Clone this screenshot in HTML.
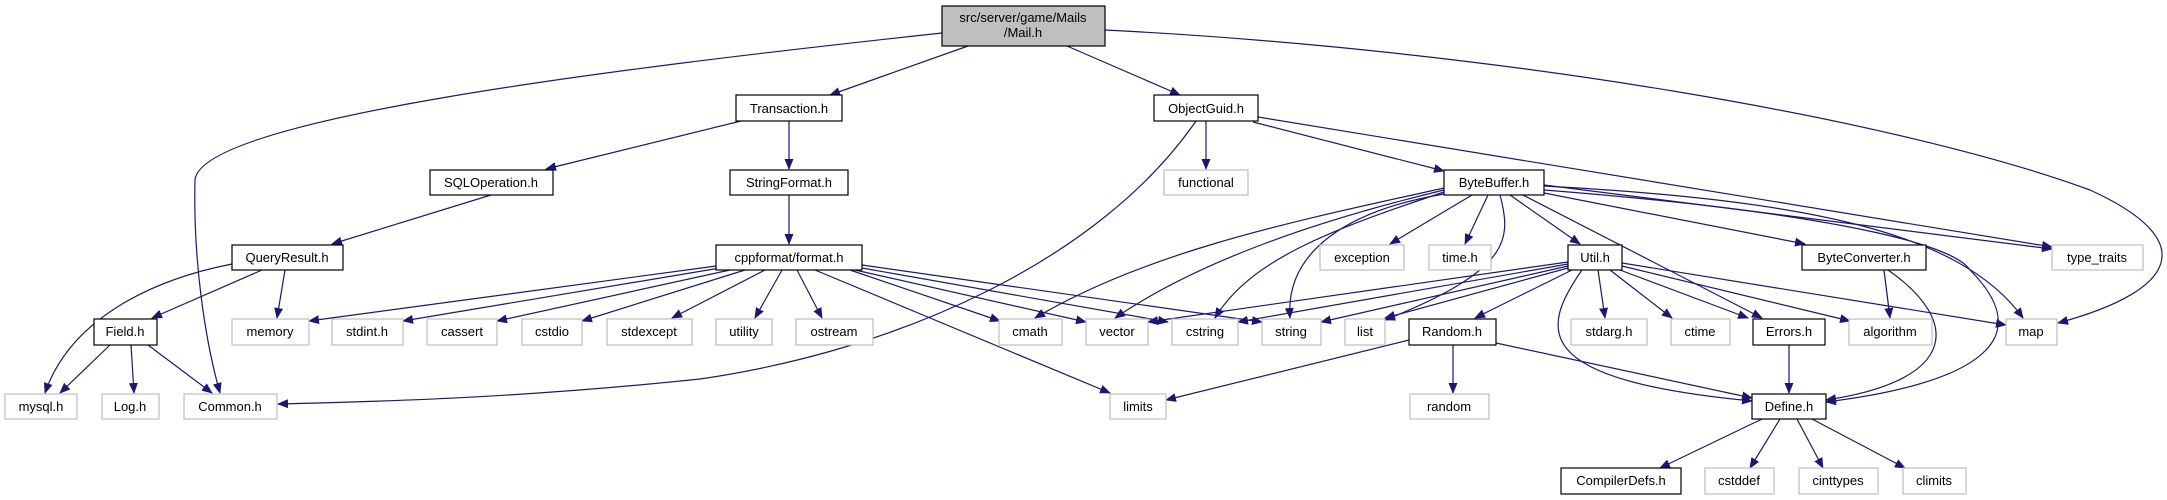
<!DOCTYPE html>
<html><head><meta charset="utf-8"><style>
html,body{margin:0;padding:0;background:#fff;}
svg{display:block;}
text{font-family:"Liberation Sans",sans-serif;font-size:13px;fill:#000;text-anchor:middle;}
.e{fill:none;stroke:#191970;stroke-width:1.2;marker-end:url(#a);}
.d{fill:#fff;stroke:#000;stroke-width:1.2;}
.x{fill:#fff;stroke:#bfbfbf;stroke-width:1.2;}
</style></head><body>
<svg width="2167" height="500" viewBox="0 0 2167 500" xmlns="http://www.w3.org/2000/svg">
<defs><marker id="a" markerWidth="11" markerHeight="9" refX="10" refY="4.5" orient="auto" markerUnits="userSpaceOnUse"><path d="M0,0L11,4.5L0,9z" fill="#191970"/></marker></defs>
<g>
<path class="e" d="M942,33 C600,70 200,120 195,180 C193,260 205,340 220,393"/>
<path class="e" d="M1105,30 C1500,50 1900,120 2090,190 C2200,240 2180,290 2058,323"/>
<path class="e" d="M968,46 L830,95"/>
<path class="e" d="M1067,46 L1180,95"/>
<path class="e" d="M1196,121 C1100,260 900,350 700,379 C500,400 350,402 278,404"/>
<path class="e" d="M741,121 L546,169"/>
<path class="e" d="M789,121 L789,169"/>
<path class="e" d="M1206,121 L1206,169"/>
<path class="e" d="M1253,122 L1444,171"/>
<path class="e" d="M1258,117 L2052,247"/>
<path class="e" d="M491,195 L332,244"/>
<path class="e" d="M789,195 L789,244"/>
<path class="e" d="M232,264 C150,280 70,320 45,393"/>
<path class="e" d="M262,270 L152,318"/>
<path class="e" d="M285,270 L277,318"/>
<path class="e" d="M110,345 L60,393"/>
<path class="e" d="M131,345 L134,393"/>
<path class="e" d="M148,345 L212,393"/>
<path class="e" d="M716,266 L309,321"/>
<path class="e" d="M720,268 L403,321"/>
<path class="e" d="M730,270 L497,321"/>
<path class="e" d="M745,270 L582,321"/>
<path class="e" d="M765,270 L672,318"/>
<path class="e" d="M782,270 L755,318"/>
<path class="e" d="M797,270 L822,318"/>
<path class="e" d="M850,270 L1000,321"/>
<path class="e" d="M855,270 L1086,322"/>
<path class="e" d="M862,268 L1168,322"/>
<path class="e" d="M862,265 L1262,322"/>
<path class="e" d="M815,270 L1110,393"/>
<path class="e" d="M1444,188 C1300,220 1150,250 1035,318"/>
<path class="e" d="M1444,190 C1320,220 1200,260 1115,318"/>
<path class="e" d="M1444,192 C1330,230 1250,260 1215,318"/>
<path class="e" d="M1444,194 C1350,210 1285,250 1290,318"/>
<path class="e" d="M1472,195 L1390,244"/>
<path class="e" d="M1488,195 L1465,244"/>
<path class="e" d="M1500,195 C1512,240 1510,270 1385,320"/>
<path class="e" d="M1510,195 L1580,244"/>
<path class="e" d="M1523,195 L1762,318"/>
<path class="e" d="M1544,193 L1805,244"/>
<path class="e" d="M1544,185 L2052,249"/>
<path class="e" d="M1544,186 C1800,200 1960,230 2023,318"/>
<path class="e" d="M1544,190 C1800,210 1950,240 1970,270 C2030,330 2000,380 1826,402"/>
<path class="e" d="M1568,262 L1148,322"/>
<path class="e" d="M1568,264 L1238,322"/>
<path class="e" d="M1568,266 L1321,322"/>
<path class="e" d="M1568,268 L1385,318"/>
<path class="e" d="M1572,270 L1475,318"/>
<path class="e" d="M1582,270 C1540,330 1530,380 1752,401"/>
<path class="e" d="M1598,270 L1605,318"/>
<path class="e" d="M1610,270 L1672,318"/>
<path class="e" d="M1620,270 L1748,318"/>
<path class="e" d="M1622,266 L1850,321"/>
<path class="e" d="M1622,263 L2006,325"/>
<path class="e" d="M1884,270 L1890,318"/>
<path class="e" d="M1888,270 C1960,320 1960,380 1826,400"/>
<path class="e" d="M1409,340 L1166,400"/>
<path class="e" d="M1453,345 L1453,393"/>
<path class="e" d="M1496,343 L1752,398"/>
<path class="e" d="M1789,345 L1789,393"/>
<path class="e" d="M1762,419 L1660,468"/>
<path class="e" d="M1780,419 L1750,468"/>
<path class="e" d="M1797,419 L1823,468"/>
<path class="e" d="M1812,419 L1905,468"/>
</g>
<g>
<rect x="942" y="6" width="163" height="40" fill="#bfbfbf" stroke="#000" stroke-width="1.2"/>
<text x="1023" y="22">src/server/game/Mails</text><text x="1023" y="37">/Mail.h</text>
<rect class="d" x="736" y="95" width="106" height="26"/><text x="789" y="113">Transaction.h</text>
<rect class="d" x="1154" y="95" width="104" height="26"/><text x="1206" y="113">ObjectGuid.h</text>
<rect class="d" x="430" y="170" width="123" height="25"/><text x="491" y="187">SQLOperation.h</text>
<rect class="d" x="730" y="170" width="118" height="25"/><text x="789" y="187">StringFormat.h</text>
<rect class="x" x="1164" y="170" width="84" height="25"/><text x="1206" y="187">functional</text>
<rect class="d" x="1444" y="170" width="100" height="25"/><text x="1494" y="187">ByteBuffer.h</text>
<rect class="d" x="232" y="245" width="111" height="25"/><text x="287" y="262">QueryResult.h</text>
<rect class="d" x="716" y="245" width="146" height="25"/><text x="789" y="262">cppformat/format.h</text>
<rect class="x" x="1320" y="245" width="84" height="25"/><text x="1362" y="262">exception</text>
<rect class="x" x="1429" y="245" width="62" height="25"/><text x="1460" y="262">time.h</text>
<rect class="d" x="1568" y="245" width="54" height="25"/><text x="1595" y="262">Util.h</text>
<rect class="d" x="1802" y="245" width="124" height="25"/><text x="1864" y="262">ByteConverter.h</text>
<rect class="x" x="2052" y="245" width="91" height="25"/><text x="2097" y="262">type_traits</text>
<rect class="d" x="94" y="319" width="63" height="26"/><text x="125" y="336">Field.h</text>
<rect class="x" x="232" y="319" width="77" height="26"/><text x="270" y="336">memory</text>
<rect class="x" x="332" y="319" width="71" height="26"/><text x="367" y="336">stdint.h</text>
<rect class="x" x="427" y="319" width="70" height="26"/><text x="462" y="336">cassert</text>
<rect class="x" x="522" y="319" width="60" height="26"/><text x="552" y="336">cstdio</text>
<rect class="x" x="607" y="319" width="85" height="26"/><text x="649" y="336">stdexcept</text>
<rect class="x" x="716" y="319" width="56" height="26"/><text x="744" y="336">utility</text>
<rect class="x" x="796" y="319" width="77" height="26"/><text x="834" y="336">ostream</text>
<rect class="x" x="999" y="319" width="63" height="26"/><text x="1030" y="336">cmath</text>
<rect class="x" x="1086" y="319" width="62" height="26"/><text x="1117" y="336">vector</text>
<rect class="x" x="1172" y="319" width="66" height="26"/><text x="1205" y="336">cstring</text>
<rect class="x" x="1262" y="319" width="59" height="26"/><text x="1291" y="336">string</text>
<rect class="x" x="1345" y="319" width="40" height="26"/><text x="1365" y="336">list</text>
<rect class="d" x="1409" y="319" width="87" height="26"/><text x="1452" y="336">Random.h</text>
<rect class="x" x="1571" y="319" width="76" height="26"/><text x="1609" y="336">stdarg.h</text>
<rect class="x" x="1671" y="319" width="59" height="26"/><text x="1700" y="336">ctime</text>
<rect class="d" x="1753" y="319" width="72" height="26"/><text x="1789" y="336">Errors.h</text>
<rect class="x" x="1849" y="319" width="83" height="26"/><text x="1890" y="336">algorithm</text>
<rect class="x" x="2006" y="319" width="51" height="26"/><text x="2031" y="336">map</text>
<rect class="x" x="5" y="394" width="72" height="25"/><text x="41" y="411">mysql.h</text>
<rect class="x" x="102" y="394" width="57" height="25"/><text x="130" y="411">Log.h</text>
<rect class="x" x="184" y="394" width="93" height="25"/><text x="230" y="411">Common.h</text>
<rect class="x" x="1110" y="394" width="56" height="25"/><text x="1138" y="411">limits</text>
<rect class="x" x="1410" y="394" width="79" height="25"/><text x="1449" y="411">random</text>
<rect class="d" x="1752" y="394" width="74" height="25"/><text x="1789" y="411">Define.h</text>
<rect class="d" x="1561" y="468" width="120" height="26"/><text x="1621" y="485">CompilerDefs.h</text>
<rect class="x" x="1705" y="468" width="69" height="26"/><text x="1739" y="485">cstddef</text>
<rect class="x" x="1799" y="468" width="79" height="26"/><text x="1838" y="485">cinttypes</text>
<rect class="x" x="1903" y="468" width="63" height="26"/><text x="1934" y="485">climits</text>
</g>
</svg>
</body></html>
